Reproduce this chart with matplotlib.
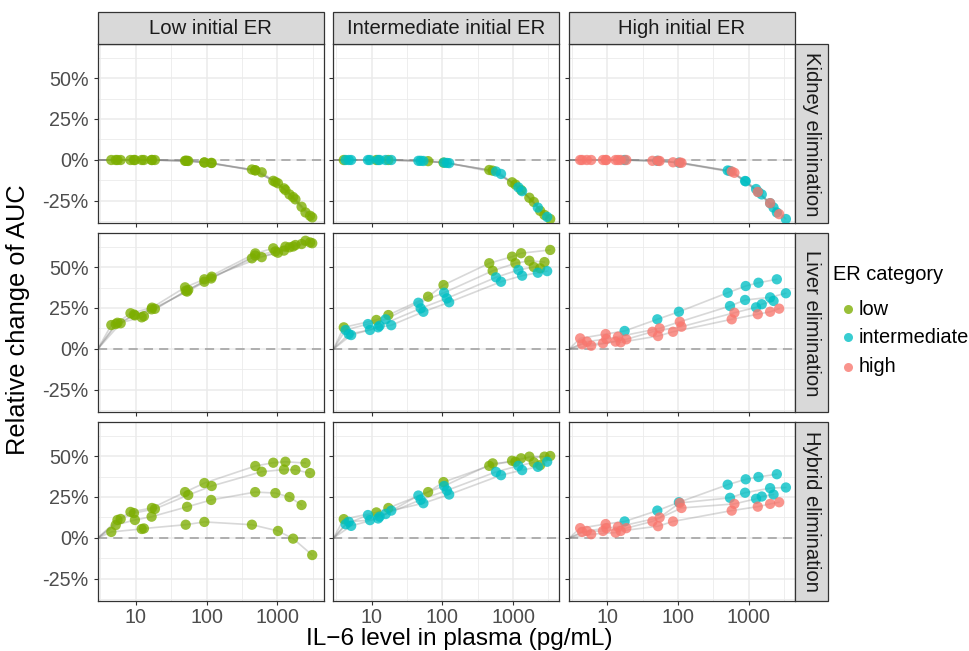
import matplotlib
matplotlib.use("Agg")
import matplotlib.pyplot as plt
from matplotlib.lines import Line2D
from matplotlib.patches import Rectangle
from matplotlib.ticker import FixedLocator, FuncFormatter, NullFormatter

plt.rcParams['font.family'] = ['Liberation Sans', 'DejaVu Sans']

# ---------------- data ----------------
col_labels = ["Low initial ER", "Intermediate initial ER", "High initial ER"]
row_labels = ["Kidney elimination", "Liver elimination", "Hybrid elimination"]
categories = ["low", "intermediate", "high"]
cat_colors = ["#7CAE00", "#00BFC4", "#F8766D"]
baseline_il6 = 2.9          # reference IL-6 level (0 % change)
x_ticks = [10, 100, 1000]
y_ticks = [-25, 0, 25, 50]

# IL-6 levels (pg/mL) of the 4 virtual patients in each initial-ER column
il6_low_er = [
    [5.5, 8.4, 16.9, 49.6, 93, 488, 876, 1300, 2500],
    [6.1, 9.4, 18.6, 55, 118, 601, 1240, 1800, 2900],
    [5.2, 9.7, 16.7, 53, 116, 486, 938, 1485, 2200],
    [4.5, 12.1, 13.0, 50.7, 93, 437, 1020, 1670, 3110],
]
il6_int_er = [
    [4.05, 11.7, 17.3, 63, 104, 461, 968, 1300, 3350],
    [4.3, 8.9, 15.8, 45.9, 106, 515, 1080, 1700, 2780],
    [4.76, 9.5, 13.0, 49.5, 116, 574, 1190, 1966, 2415],
    [5.15, 12.4, 19.0, 54, 125, 676, 1343, 2240, 3035],
]
il6_high_er = [
    [4.14, 9.5, 17.6, 51, 103, 504, 906, 1371, 2494],
    [5.15, 9.7, 14.2, 55, 106, 543, 887, 2004, 3350],
    [4.42, 8.7, 18.6, 43.5, 112, 627, 1268, 1527, 2240],
    [5.93, 13.1, 15.5, 52.3, 85, 574, 1342, 2004, 2690],
]

# ER category of each point (0 low, 1 intermediate, 2 high)
cat_low_er = [[0] * 9, [0] * 9, [0] * 9, [0] * 9]
cat_int_er = [
    [0, 0, 0, 0, 0, 0, 0, 0, 0],
    [1, 1, 1, 1, 1, 0, 0, 0, 0],
    [1, 1, 1, 1, 1, 1, 1, 0, 0],
    [1, 1, 1, 1, 1, 1, 1, 1, 1],
]
cat_high_er = [
    [2, 2, 1, 1, 1, 1, 1, 1, 1],
    [2, 2, 2, 2, 2, 1, 1, 1, 1],
    [2, 2, 2, 2, 2, 2, 1, 1, 1],
    [2, 2, 2, 2, 2, 2, 2, 2, 2],
]

# Relative change of AUC (%)
kidney_low_er = [
    [0, 0, 0, -0.5, -1.5, -6.3, -12.7, -18.3, -32.0],
    [0, 0, 0, -0.6, -1.8, -7.5, -17.3, -24.0, -34.0],
    [0, 0, 0, -0.5, -1.8, -6.3, -13.4, -21.0, -28.5],
    [0, 0, 0, -0.5, -1.5, -5.8, -14.2, -22.6, -35.0],
]
kidney_int_er = [
    [0, 0, 0, -0.7, -1.6, -6.1, -13.6, -18.3, -36.0],
    [0, 0, 0, -0.5, -1.6, -6.5, -15.0, -23.0, -33.5],
    [0, 0, 0, -0.5, -1.8, -7.0, -16.7, -25.6, -31.0],
    [0, 0, 0, -0.6, -1.9, -8.5, -19.0, -29.0, -34.7],
]
kidney_high_er = [
    [0, 0, 0, -0.5, -1.6, -6.4, -13.0, -19.6, -32.0],
    [0, 0, 0, -0.6, -1.6, -6.7, -12.8, -26.3, -36.0],
    [0, 0, 0, -0.5, -1.7, -7.8, -17.7, -21.0, -29.0],
    [0, 0, 0, -0.5, -1.4, -7.0, -19.5, -26.3, -33.0],
]
liver_low_er = [
    [16.0, 21.8, 25.2, 37.6, 42.5, 58.3, 61.4, 62.4, 66.0],
    [15.7, 21.0, 24.5, 36.0, 44.1, 56.0, 60.0, 63.4, 65.0],
    [15.2, 20.5, 24.2, 35.0, 43.0, 57.0, 59.5, 62.0, 64.0],
    [14.6, 19.3, 20.0, 35.5, 41.0, 55.3, 58.7, 62.5, 64.5],
]
liver_int_er = [
    [13.2, 17.7, 20.7, 31.9, 39.0, 52.3, 56.3, 58.4, 60.4],
    [11.6, 15.2, 18.1, 28.2, 34.3, 47.7, 52.3, 53.8, 53.0],
    [9.1, 11.6, 14.2, 24.8, 30.9, 43.7, 48.2, 50.0, 49.2],
    [8.5, 13.2, 14.5, 22.7, 28.5, 41.0, 44.7, 46.5, 47.5],
]
liver_high_er = [
    [6.5, 9.1, 11.0, 18.1, 22.7, 34.3, 38.4, 40.4, 42.5],
    [4.5, 6.1, 7.5, 12.6, 16.6, 26.2, 29.9, 31.5, 34.0],
    [2.9, 3.5, 5.9, 10.5, 13.6, 22.1, 25.4, 27.3, 29.3],
    [2.0, 4.5, 4.1, 7.9, 10.5, 18.1, 21.2, 22.7, 24.6],
]
hybrid_low_er = [
    [11.0, 15.9, 18.3, 28.0, 33.5, 43.9, 45.9, 46.5, 45.7],
    [11.6, 15.2, 17.7, 26.2, 31.7, 40.4, 41.7, 41.5, 39.6],
    [7.9, 11.0, 13.0, 19.0, 23.2, 28.0, 27.4, 25.0, 20.1],
    [3.7, 5.5, 5.8, 8.1, 9.8, 8.1, 4.3, -0.4, -10.4],
]
hybrid_int_er = [
    [11.5, 15.6, 18.3, 28.0, 34.1, 44.0, 47.1, 48.6, 50.0],
    [8.4, 14.0, 14.6, 25.9, 31.7, 45.5, 46.5, 49.6, 49.6],
    [9.9, 10.9, 13.0, 23.3, 29.0, 40.3, 44.0, 46.1, 44.4],
    [7.4, 11.9, 16.7, 21.2, 26.5, 38.3, 41.4, 43.4, 46.5],
]
hybrid_high_er = [
    [6.0, 8.5, 10.1, 16.7, 21.8, 32.5, 35.8, 37.2, 38.9],
    [4.3, 6.0, 6.8, 12.5, 21.4, 24.5, 27.6, 30.4, 30.8],
    [3.7, 4.3, 6.0, 10.1, 18.3, 20.8, 23.9, 25.3, 26.5],
    [2.3, 3.3, 4.3, 7.2, 10.1, 16.7, 19.1, 20.8, 21.8],
]

il6_cols = [il6_low_er, il6_int_er, il6_high_er]
cat_cols = [cat_low_er, cat_int_er, cat_high_er]
change_grid = [
    [kidney_low_er, kidney_int_er, kidney_high_er],
    [liver_low_er, liver_int_er, liver_high_er],
    [hybrid_low_er, hybrid_int_er, hybrid_high_er],
]

# ---------------- layout ----------------
W, H = 969, 651
fig = plt.figure(figsize=(W / 100, H / 100), dpi=100)


def fx(px):
    return px / W


def fy(py):
    return 1 - py / H


col_left = [97.7, 333.4, 569.1]
panel_w = 225.8
row_top = [44.3, 233.3, 422.3]
panel_h = 179.0
strip_top = 12.0
strip_w = 33.3

border = "#333333"
grid_c = "#EBEBEB"

for r in range(3):
    for c in range(3):
        ax = fig.add_axes([fx(col_left[c]), fy(row_top[r] + panel_h),
                           panel_w / W, panel_h / H])
        ax.set_xscale('log')
        ax.set_xlim(2.89, 4490)
        ax.set_ylim(-38.6, 70.55)
        ax.xaxis.set_major_locator(FixedLocator(x_ticks))
        ax.xaxis.set_minor_locator(FixedLocator([10 ** 0.5, 10 ** 1.5, 10 ** 2.5, 10 ** 3.5]))
        ax.yaxis.set_major_locator(FixedLocator(y_ticks))
        ax.yaxis.set_minor_locator(FixedLocator([-37.5, -12.5, 12.5, 37.5, 62.5]))
        ax.xaxis.set_minor_formatter(NullFormatter())
        ax.grid(which='major', color=grid_c, lw=1.1, zorder=0)
        ax.grid(which='minor', color=grid_c, lw=0.6, zorder=0)
        ax.set_axisbelow(True)
        for sp in ax.spines.values():
            sp.set_color(border)
            sp.set_linewidth(0.9)
        ax.tick_params(which='minor', length=0)
        ax.tick_params(which='major', length=3.2, width=0.8, color=border,
                       labelsize=14.2, labelcolor="#4D4D4D")
        ax.tick_params(axis='y', pad=3.5)
        ax.tick_params(axis='x', pad=1.5)
        if c == 0:
            ax.yaxis.set_major_formatter(FuncFormatter(lambda v, p: f"{v:.0f}%"))
        else:
            ax.yaxis.set_major_formatter(NullFormatter())
        if r == 2:
            ax.xaxis.set_major_formatter(FuncFormatter(lambda v, p: f"{v:.0f}"))
        else:
            ax.xaxis.set_major_formatter(NullFormatter())

        ax.axhline(0, color="#9E9E9E", lw=1.1, dashes=(6, 4), zorder=1)

        xs_all = il6_cols[c]
        ys_all = change_grid[r][c]
        cs_all = cat_cols[c]
        for xs, ys in zip(xs_all, ys_all):
            ax.plot([baseline_il6] + list(xs), [0] + list(ys), color="#7F7F7F",
                    alpha=0.3, lw=1.2, zorder=2, solid_capstyle='round')
        for xs, ys, cs in zip(xs_all, ys_all, cs_all):
            ax.scatter(xs, ys, s=55, c=[cat_colors[k] for k in cs], alpha=0.78,
                       linewidths=0, zorder=3)

        # right strip
        if c == 2:
            fig.add_artist(Rectangle((fx(col_left[c] + panel_w), fy(row_top[r] + panel_h)),
                                     strip_w / W, panel_h / H, transform=fig.transFigure,
                                     facecolor="#D9D9D9", edgecolor=border, lw=0.9))
            fig.text(fx(col_left[c] + panel_w + strip_w / 2), fy(row_top[r] + panel_h / 2),
                     row_labels[r], rotation=270, ha='center', va='center',
                     fontsize=14.6, color="#1A1A1A")

# top strips
for c in range(3):
    fig.add_artist(Rectangle((fx(col_left[c]), fy(row_top[0])), panel_w / W,
                             (row_top[0] - strip_top) / H, transform=fig.transFigure,
                             facecolor="#D9D9D9", edgecolor=border, lw=0.9))
    fig.text(fx(col_left[c] + panel_w / 2), fy((strip_top + row_top[0]) / 2),
             col_labels[c], ha='center', va='center', fontsize=14.6, color="#1A1A1A")

# axis titles
fig.text(fx(18), fy(320), "Relative change of AUC", rotation=90,
         ha='center', va='center', fontsize=18.3)
fig.text(fx(459), fy(645), "IL\u22126 level in plasma (pg/mL)",
         ha='center', va='baseline', fontsize=17.6)

# legend
fig.text(fx(833), fy(275), "ER category", ha='left', va='center', fontsize=14.4)
for k, (lab, col) in enumerate(zip(categories, cat_colors)):
    yk = [309.3, 337.3, 366.7][k]
    fig.add_artist(Line2D([fx(847.7)], [fy(yk)], marker='o', markersize=6.5,
                          markerfacecolor=col, markeredgewidth=0, alpha=0.78,
                          linestyle='none', transform=fig.transFigure))
    fig.text(fx(858.3), fy(yk), lab, ha='left', va='center', fontsize=14.4)

fig.savefig("out.png", dpi=100, facecolor='white')
